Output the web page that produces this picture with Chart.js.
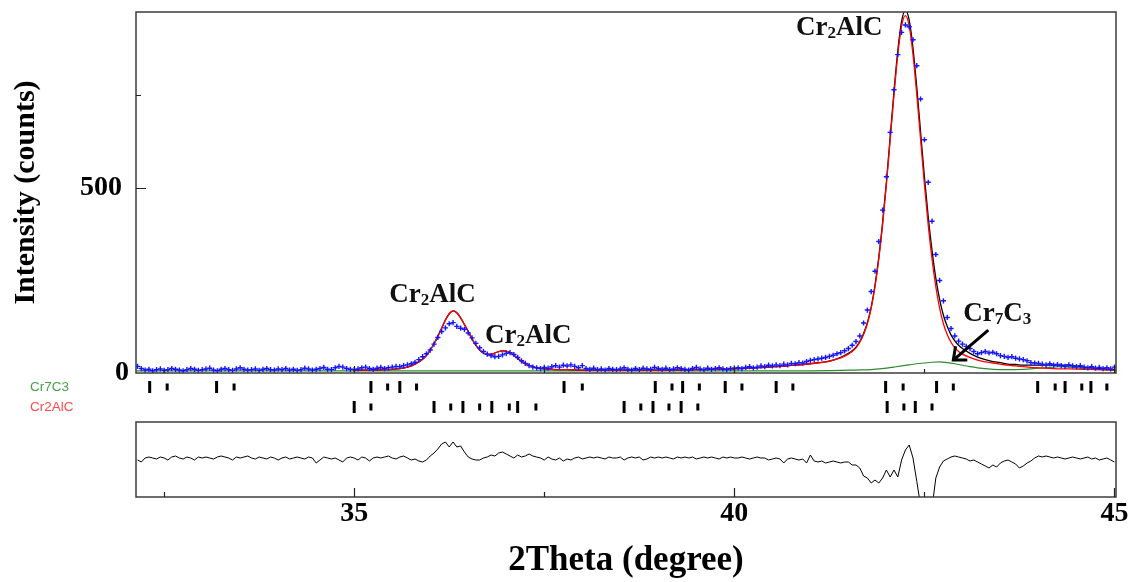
<!DOCTYPE html>
<html><head><meta charset="utf-8"><title>Rietveld refinement Cr2AlC / Cr7C3</title>
<script src="https://cdn.jsdelivr.net/npm/chart.js@4.4.1/dist/chart.umd.min.js"></script>
<style>
html,body{margin:0;padding:0;background:#fff;}
body{width:1137px;height:582px;position:relative;overflow:hidden;}
canvas{position:absolute;left:0;}
#main{top:0;}
#marks{top:377px;}
#diff{top:416px;}
</style></head><body>
<canvas id="main" width="1137" height="380"></canvas>
<canvas id="marks" width="1137" height="40"></canvas>
<canvas id="diff" width="1137" height="166"></canvas>
<script>
// ---------------- data ----------------
const twoTheta = [
32.15,32.2,32.25,32.3,32.35,32.4,32.45,32.5,32.55,32.6,32.65,32.7,32.75,32.8,32.85,32.9,32.95,33,
33.05,33.1,33.15,33.2,33.25,33.3,33.35,33.4,33.45,33.5,33.55,33.6,33.65,33.7,33.75,33.8,33.85,33.9,33.95,34,
34.05,34.1,34.15,34.2,34.25,34.3,34.35,34.4,34.45,34.5,34.55,34.6,34.65,34.7,34.75,34.8,34.85,34.9,34.95,35,
35.05,35.1,35.15,35.2,35.25,35.3,35.35,35.4,35.45,35.5,35.55,35.6,35.65,35.7,35.75,35.8,35.85,35.9,35.95,36,
36.05,36.1,36.15,36.2,36.25,36.3,36.35,36.4,36.45,36.5,36.55,36.6,36.65,36.7,36.75,36.8,36.85,36.9,36.95,37,
37.05,37.1,37.15,37.2,37.25,37.3,37.35,37.4,37.45,37.5,37.55,37.6,37.65,37.7,37.75,37.8,37.85,37.9,37.95,38,
38.05,38.1,38.15,38.2,38.25,38.3,38.35,38.4,38.45,38.5,38.55,38.6,38.65,38.7,38.75,38.8,38.85,38.9,38.95,39,
39.05,39.1,39.15,39.2,39.25,39.3,39.35,39.4,39.45,39.5,39.55,39.6,39.65,39.7,39.75,39.8,39.85,39.9,39.95,40,
40.05,40.1,40.15,40.2,40.25,40.3,40.35,40.4,40.45,40.5,40.55,40.6,40.65,40.7,40.75,40.8,40.85,40.9,40.95,41,
41.05,41.1,41.15,41.2,41.25,41.3,41.35,41.4,41.45,41.5,41.55,41.6,41.65,41.7,41.75,41.8,41.85,41.9,41.95,42,
42.05,42.1,42.15,42.2,42.25,42.3,42.35,42.4,42.45,42.5,42.55,42.6,42.65,42.7,42.75,42.8,42.85,42.9,42.95,43,
43.05,43.1,43.15,43.2,43.25,43.3,43.35,43.4,43.45,43.5,43.55,43.6,43.65,43.7,43.75,43.8,43.85,43.9,43.95,44,
44.05,44.1,44.15,44.2,44.25,44.3,44.35,44.4,44.45,44.5,44.55,44.6,44.65,44.7,44.75,44.8,44.85,44.9,44.95,45];

const observed = [
18,12,8,10,6,9,11,7,9,12,10,8,6,9,12,10,7,9,
11,13,8,6,10,12,9,7,11,14,10,8,9,11,7,10,12,9,8,11,
9,12,8,10,7,9,13,11,8,10,12,15,10,9,14,18,16,12,10,9,
11,14,16,12,10,13,15,12,14,16,18,17,20,22,25,29,36,44,52,62,
78,96,112,122,133,136,126,121,118,108,95,80,68,58,51,47,44,45,49,53,
55,50,42,33,26,20,16,14,12,15,13,17,20,16,21,19,22,18,14,20,
12,10,13,9,11,8,12,10,9,11,14,10,8,12,9,13,11,10,15,12,
10,13,9,11,14,12,10,8,12,15,11,9,13,10,12,14,11,9,12,13,
14,12,15,17,14,16,19,17,21,19,22,20,24,22,26,25,28,27,31,34,
36,38,40,42,45,48,52,55,60,66,75,85,100,135,170,220,275,355,440,530,
650,765,860,920,940,935,900,830,740,630,515,410,320,250,195,150,120,100,86,78,
72,66,58,52,55,58,54,56,52,47,45,42,44,40,38,36,33,28,27,26,
24,22,25,21,23,20,18,22,19,17,20,16,14,17,13,15,12,14,11,16];

const difference = [
-4,-8,0,2,0,-2,2,0,-4,2,4,0,-2,2,0,-4,2,0,
2,0,-2,2,4,2,0,-4,2,0,2,4,0,-2,2,0,-2,2,0,-4,
0,2,-2,0,2,0,-2,2,0,-10,-4,2,0,-2,0,-4,-8,0,2,0,
-4,2,0,-6,0,2,0,2,4,0,-2,2,4,0,-4,-2,-6,-8,-4,4,
10,18,28,32,22,32,22,24,12,2,-2,-4,-4,0,2,6,4,10,12,8,
4,0,6,2,4,8,4,2,0,-4,2,-2,-4,0,-6,-2,-4,0,2,-2,
0,2,0,2,0,-2,2,0,0,2,-4,0,2,0,2,-4,-2,2,0,2,
0,2,0,-2,2,0,2,0,2,-2,0,2,0,2,0,-2,2,0,2,0,
0,2,0,-2,0,2,0,0,-4,-2,0,-2,-10,-2,0,-2,-4,-2,-10,6,
-6,-8,-6,-10,-8,-6,-8,-10,-8,-8,-14,-14,-20,-36,-40,-50,-44,-50,-40,-24,
-38,-24,-38,-4,16,26,0,-47,-95,-130,-140,-100,-40,-18,-6,-2,2,4,2,0,
-2,-6,-4,-8,-12,-16,-20,-14,-18,-10,-6,-4,-8,-12,-20,-16,-10,-6,0,4,
2,4,2,0,2,0,-2,0,2,0,-2,0,2,-2,0,-4,-2,0,-4,-8];

const calcTheta = [35,35.2,35.4,35.5,35.6,35.7,35.8,35.9,
35.95,36,36.05,36.1,36.15,36.2,36.25,36.3,36.35,36.4,36.45,36.5,36.55,36.6,36.65,36.7,36.75,36.8,36.85,36.9,36.95,37,37.05,37.1,37.15,37.2,37.25,37.3,37.35,37.4,
37.5,37.6,37.8,38,38.5,39,39.5,40,40.2,40.4,40.6,40.8,41,
41.1,41.2,41.3,41.4,41.5,
41.55,41.6,41.65,41.7,41.75,41.8,41.85,41.9,41.95,42,42.05,42.1,42.15,42.2,42.25,42.3,42.35,42.4,42.45,42.5,42.55,42.6,42.65,42.7,42.75,42.8,42.85,42.9,42.95,43,
43.1,43.2,43.3,43.4,43.5,43.6,43.7,43.8,43.9,44,
44.2,44.4,44.6,44.8,45];

const cr2alcCalc = [8,8,9,10,12,16,24,37,
48,62,79,99,121,143,160,168,163,149,131,112,92,75,62,54,50,50,54,58,60,59,55,48,40,32,26,21,17,14,
11,10,9,8,8,8,9,11,13,15,18,21,25,
27,30,35,41,51,
58,68,83,104,133,175,233,308,400,509,630,751,860,937,965,937,860,751,630,509,400,308,233,175,133,104,83,68,58,51,
42,35,30,27,24,21,19,17,15,14,
12,11,10,9,8];

const totalCalc = [8,8,9,10,12,16,24,37,
48,62,79,99,121,143,160,168,163,149,131,112,92,75,62,54,50,50,54,58,60,59,55,48,40,32,26,21,17,14,
11,10,9,8,8,8,9,11,13,15,18,21,25,
28,30,35,42,53,
60,70,85,107,136,178,237,313,406,516,638,761,871,950,979,953,877,770,650,530,422,331,256,199,156,126,103,87,75,66,
53,43,36,31,28,24,23,21,21,21,
22,21,16,12,9];

const cr7c3Theta = [32.13,35,38,41,41.4,41.6,41.8,41.9,42,42.1,42.2,42.3,42.4,42.5,42.6,42.7,42.8,42.9,43,43.1,43.2,43.3,43.4,43.6,43.8,44,44.2,44.3,44.4,44.6,44.8,45.02];
const cr7c3Calc  = [6,6,6,6,7,8,9,11,13,16,19,22,25,27,29,30,28,25,21,17,14,12,10,9,10,13,16,17,16,12,9,7];

const phaseNames = ['Cr7C3', 'Cr2AlC'];
const cr7c3Reflections  = [32.31,33.19,35.22,35.60,37.76,38.96,39.32,39.88,40.55,41.99,42.66,43.99,44.35,44.69];
const cr7c3Reflections2 = [32.54,33.42,35.44,35.82,38.00,39.18,39.54,40.10,40.77,42.22,42.88,44.22,44.57,44.90];
const cr2alcReflections  = [35.00,36.05,36.43,36.81,37.15,38.55,38.93,39.30,42.01,42.38];
const cr2alcReflections2 = [35.22,36.27,36.65,37.04,37.39,38.77,39.14,39.52,42.23,42.60];

const xLabelTicks = [35, 40, 45];
const xMinorTicks = [32.5, 37.5, 42.5];
const yLabelTicks = [0, 500];
const yMinorTicks = [750];

// ---------------- helpers / styling ----------------
const SERIF = '"Liberation Serif", "Times New Roman", serif';
const X_MIN = 32.13, X_MAX = 45.02;
const pts = (xs, ys) => xs.map((x, i) => ({x: x, y: ys[i]}));
const phaseRow = name => phaseNames.length - phaseNames.indexOf(name) - 0.5;
Chart.defaults.font.family = SERIF;

function framePlugin(xTicks, yTicks) {
  return {
    id: 'frame',
    afterDraw(chart) {
      const {ctx, chartArea: a, scales} = chart;
      ctx.save();
      ctx.strokeStyle = '#3c3c3c';
      ctx.lineWidth = 1.5;
      ctx.strokeRect(a.left, a.top, a.right - a.left, a.bottom - a.top);
      ctx.strokeStyle = '#222';
      ctx.lineWidth = 1.2;
      ctx.beginPath();
      xTicks.forEach(t => {
        const p = Math.round(scales.x.getPixelForValue(t[0])) + 0.5;
        ctx.moveTo(p, a.bottom); ctx.lineTo(p, a.bottom - t[1]);
      });
      yTicks.forEach(t => {
        const p = Math.round(scales.y.getPixelForValue(t[0])) + 0.5;
        ctx.moveTo(a.left, p); ctx.lineTo(a.left + t[1], p);
      });
      ctx.stroke();
      ctx.restore();
    }
  };
}

const peakLabels = [
  {parts: [['Cr', 0], ['2', 1], ['AlC', 0]], x: 35.46, y: 192},
  {parts: [['Cr', 0], ['2', 1], ['AlC', 0]], x: 36.72, y: 81},
  {parts: [['Cr', 0], ['2', 1], ['AlC', 0]], x: 40.81, y: 913},
  {parts: [['Cr', 0], ['7', 1], ['C', 0], ['3', 1]], x: 43.01, y: 140}
];
const arrowFrom = {x: 43.34, y: 116}, arrowTo = {x: 42.88, y: 35};

const labelPlugin = {
  id: 'peakLabels',
  afterDatasetsDraw(chart) {
    const {ctx, scales: {x, y}} = chart;
    ctx.save();
    ctx.fillStyle = '#111';
    ctx.textAlign = 'left';
    ctx.textBaseline = 'alphabetic';
    peakLabels.forEach(l => {
      let px = x.getPixelForValue(l.x);
      const py = y.getPixelForValue(l.y);
      l.parts.forEach(([t, sub]) => {
        ctx.font = 'bold ' + (sub ? 17 : 27) + 'px ' + SERIF;
        ctx.fillText(t, px, py + (sub ? 3 : 0));
        px += ctx.measureText(t).width;
      });
    });
    const x1 = x.getPixelForValue(arrowFrom.x), y1 = y.getPixelForValue(arrowFrom.y);
    const x2 = x.getPixelForValue(arrowTo.x), y2 = y.getPixelForValue(arrowTo.y);
    const ang = Math.atan2(y2 - y1, x2 - x1);
    ctx.strokeStyle = '#000';
    ctx.lineWidth = 3;
    ctx.lineCap = 'butt';
    ctx.beginPath();
    ctx.moveTo(x1, y1); ctx.lineTo(x2, y2);
    const hl = 14, ha = 0.7;
    ctx.moveTo(x2 - hl * Math.cos(ang - ha), y2 - hl * Math.sin(ang - ha));
    ctx.lineTo(x2, y2);
    ctx.lineTo(x2 - hl * Math.cos(ang + ha), y2 - hl * Math.sin(ang + ha));
    ctx.stroke();
    ctx.restore();
  }
};

const noPad = s => { s.paddingLeft = 0; s.paddingRight = 0; s.paddingTop = 0; s.paddingBottom = 0; };
const common = {responsive: false, animation: false, devicePixelRatio: 1, events: []};

// ---------------- main pattern ----------------
new Chart(document.getElementById('main'), {
  type: 'line',
  data: {datasets: [
    {label: 'Observed', data: pts(twoTheta, observed), showLine: false, pointStyle: 'cross',
     pointRadius: 2.6, pointBorderWidth: 1.4, pointBorderColor: '#1414ff', borderColor: '#1414ff', order: 1},
    {label: 'Cr2AlC', data: pts(calcTheta, cr2alcCalc), borderColor: '#ff0000', borderWidth: 1.3,
     pointRadius: 0, cubicInterpolationMode: 'monotone', order: 2},
    {label: 'Calculated', data: pts(calcTheta, totalCalc), borderColor: '#000000', borderWidth: 1.3,
     pointRadius: 0, cubicInterpolationMode: 'monotone', order: 3},
    {label: 'Cr7C3', data: pts(cr7c3Theta, cr7c3Calc), borderColor: '#2e8b2e', borderWidth: 1.2,
     pointRadius: 0, cubicInterpolationMode: 'monotone', order: 4}
  ]},
  options: Object.assign({}, common, {
    layout: {autoPadding: false, padding: {top: 12, right: 21, left: 0, bottom: 0}},
    plugins: {legend: {display: false}, tooltip: {enabled: false}},
    scales: {
      x: {type: 'linear', min: X_MIN, max: X_MAX, ticks: {display: false},
          grid: {display: false, drawTicks: false}, border: {display: false},
          afterFit(s) { s.height = 7; noPad(s); }},
      y: {type: 'linear', min: 0, max: 975,
          afterBuildTicks(s) { s.ticks = yLabelTicks.map(v => ({value: v})); },
          ticks: {callback: v => (v === 500 ? '500 ' : String(v)), color: '#000', padding: 7,
                  font: {family: SERIF, size: 28, weight: 'bold'}},
          grid: {display: false, drawTicks: false}, border: {display: false},
          title: {display: true, text: 'Intensity (counts)', color: '#000',
                  font: {family: SERIF, size: 30, weight: 'bold'}, padding: {top: 8, bottom: 0}},
          afterFit(s) { s.width = 136; noPad(s); }}
    }
  }),
  plugins: [framePlugin(
    xLabelTicks.map(v => [v, 7]).concat(xMinorTicks.map(v => [v, 4])),
    [[500, 10]].concat(yMinorTicks.map(v => [v, 5]))), labelPlugin]
});

// ---------------- reflection markers ----------------
const tickSet = (xs, phase, r) => ({
  type: 'scatter', data: xs.map(x => ({x: x, y: phaseRow(phase)})), pointStyle: 'line', pointRotation: 90,
  pointRadius: r, pointBorderWidth: 3, pointBorderColor: '#000', borderColor: '#000'
});
new Chart(document.getElementById('marks'), {
  type: 'scatter',
  data: {datasets: [
    tickSet(cr7c3Reflections, 'Cr7C3', 6), tickSet(cr7c3Reflections2, 'Cr7C3', 3.5),
    tickSet(cr2alcReflections, 'Cr2AlC', 6), tickSet(cr2alcReflections2, 'Cr2AlC', 3.5)
  ]},
  options: Object.assign({}, common, {
    layout: {autoPadding: false, padding: {top: 0, right: 21, left: 30, bottom: 0}},
    plugins: {legend: {display: false}, tooltip: {enabled: false}},
    scales: {
      x: {type: 'linear', min: X_MIN, max: X_MAX, display: false},
      y: {type: 'linear', min: 0, max: phaseNames.length,
          afterBuildTicks(s) { s.ticks = phaseNames.map(n => ({value: phaseRow(n)})); },
          ticks: {crossAlign: 'far', padding: 0, autoSkip: false,
                  callback: (v, i) => phaseNames[i],
                  color: c => (c.index === 0 ? '#46a046' : '#ff4a4a'),
                  font: {family: '"Liberation Sans", Arial, sans-serif', size: 13.5}},
          grid: {display: false, drawTicks: false}, border: {display: false},
          afterFit(s) { s.width = 106; noPad(s); }}
    }
  })
});

// ---------------- difference curve ----------------
new Chart(document.getElementById('diff'), {
  type: 'line',
  data: {datasets: [
    {label: 'Difference', data: pts(twoTheta, difference), borderColor: '#000', borderWidth: 1,
     pointRadius: 0, tension: 0}
  ]},
  options: Object.assign({}, common, {
    layout: {autoPadding: false, padding: {top: 6, right: 21, left: 0, bottom: 0}},
    plugins: {legend: {display: false}, tooltip: {enabled: false}},
    scales: {
      x: {type: 'linear', min: X_MIN, max: X_MAX,
          afterBuildTicks(s) { s.ticks = xLabelTicks.map(v => ({value: v})); },
          ticks: {color: '#000', padding: 0, maxRotation: 0, autoSkip: false,
                  font: {family: SERIF, size: 28, weight: 'bold'}},
          grid: {display: false, drawTicks: false}, border: {display: false},
          title: {display: true, text: '2Theta (degree)', color: '#000',
                  font: {family: SERIF, size: 35, weight: 'bold'}, padding: {top: 0, bottom: 0}},
          afterFit(s) { s.height = 85; noPad(s); }},
      y: {type: 'linear', min: -78, max: 72, ticks: {display: false},
          grid: {display: false, drawTicks: false}, border: {display: false},
          afterFit(s) { s.width = 136; noPad(s); }}
    }
  }),
  plugins: [framePlugin(
    xLabelTicks.map(v => [v, 9]).concat(xMinorTicks.map(v => [v, 5])), [])]
});
</script>
</body></html>
